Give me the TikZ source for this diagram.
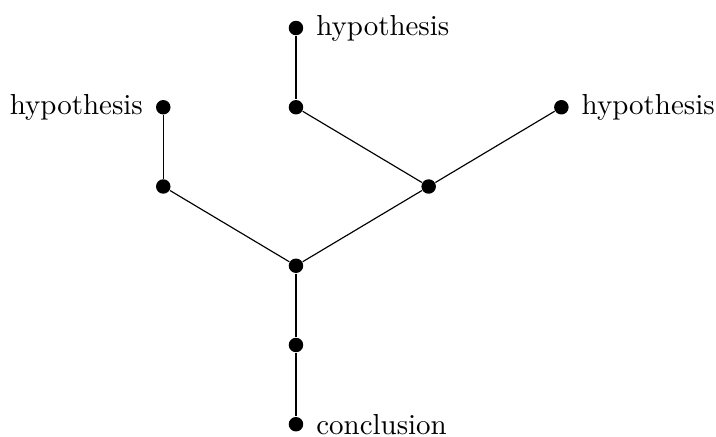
\documentclass[tikz,border=0pt]{standalone}
\usepackage{tikz}
\usetikzlibrary{positioning}

\begin{document}
\begin{tikzpicture}[
  on grid, node distance=0.962cm and 1.611cm,
  pt/.style={circle, fill=black, inner sep=0pt, minimum size=5pt},
  every label/.style={label distance=0.8pt},
  link/.style={draw=black, line width=0.4pt}
]
  \useasboundingbox (-3.593,0.340) rectangle (5.099,-4.953);

  \node[pt, label=right:hypothesis] (hyptop) at (0,0) {};
  \node[pt, below=of hyptop]        (mid)   {};
  \node[pt, left=of mid, label=left:hypothesis] (hypleft) {};
  \node[pt, below=of hypleft]       (lower) {};
  \node[pt, below right=of mid]     (right) {};
  \node[pt, above right=of right, label=right:hypothesis] (hypright) {};
  \node[pt, below right=of lower]   (join)  {};
  \node[pt, below=of join]          (step)  {};
  \node[pt, below=of step, label=right:conclusion] (concl) {};

  \draw[link] (hyptop) -- (mid);
  \draw[link] (hypleft) -- (lower);
  \draw[link] (mid) -- (right);
  \draw[link] (hypright) -- (right);
  \draw[link] (lower) -- (join);
  \draw[link] (right) -- (join);
  \draw[link] (join) -- (step);
  \draw[link] (step) -- (concl);
\end{tikzpicture}
\end{document}
